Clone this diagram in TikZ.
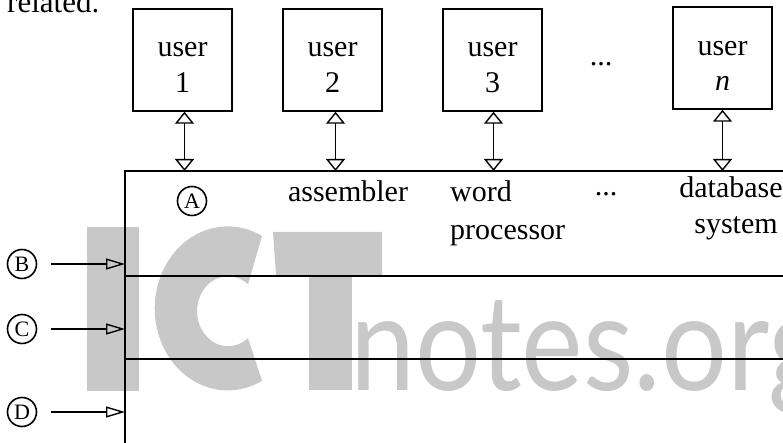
\documentclass[tikz,border=0pt]{standalone}
\usepackage{fontspec}
\usepackage{graphicx}
\setmainfont{Liberation Serif}
\newfontfamily\wmfont{Lato}
\usetikzlibrary{arrows.meta}
\definecolor{wmgray}{RGB}{200,200,200}
\begin{document}
\begin{tikzpicture}[x=1pt,y=-1pt,
  ubox/.style={draw,line width=1.5pt,minimum width=99pt,minimum height=102pt,inner sep=0pt},
  lab/.style={font=\fontsize{30}{36}\selectfont,inner sep=0pt},
  circ/.style={draw,circle,line width=1.6pt,minimum size=29pt,inner sep=0pt,font=\fontsize{22}{22}\selectfont},
  dbl/.style={line width=1.4pt,{Triangle[open,length=12pt,width=19pt]}-{Triangle[open,length=12pt,width=19pt]}},
  inarrow/.style={line width=1.4pt,-{Triangle[open,length=19pt,width=11pt]}},
  frame/.style={line width=1.6pt},
  wm/.style={fill=wmgray,draw=none},
]
\useasboundingbox (0,0) rectangle (783,443);
\clip (0,0) rectangle (783,443);
% watermark
\fill[wm] (87,227) rectangle (139,391);
\fill[wm] (262,236) arc[start angle=-62,end angle=-298,x radius=73,y radius=82]
  -- (248,338) arc[start angle=50,end angle=310,x radius=31,y radius=35] -- cycle;
\fill[wm] (273,232) -- (382,232) -- (382,275) -- (276,275) -- cycle;
\fill[wm] (309,274) rectangle (352,390);
\node[text=wmgray,inner sep=0pt,anchor=base west] (wmtxt) at (350,390)
  {\scalebox{0.87}[1]{\wmfont\fontsize{134}{134}\selectfont notes.org}};
% related
\node[font=\fontsize{31}{31}\selectfont,anchor=base west,inner sep=0pt] (rel) at (7,13) {related.};
% user boxes
\node[ubox] (u1) at (182.5,60) {};
\node[ubox] (u2) at (332.5,60) {};
\node[ubox] (u3) at (492.5,60) {};
\node[ubox] (un) at (722.5,58) {};
\node[lab,anchor=base] (u1a) at (u1.center |- 0,57) {user};
\node[lab,anchor=base] (u1b) at (u1.center |- 0,93) {1};
\node[lab,anchor=base] (u2a) at (u2.center |- 0,57) {user};
\node[lab,anchor=base] (u2b) at (u2.center |- 0,93) {2};
\node[lab,anchor=base] (u3a) at (u3.center |- 0,57) {user};
\node[lab,anchor=base] (u3b) at (u3.center |- 0,93) {3};
\node[lab,anchor=base] (una) at (un.center |- 0,56) {user};
\node[lab,anchor=base] (unb) at (un.center |- 0,91) {\itshape n};
\node[lab,anchor=base] (dots1) at (601,66) {...};
% main frame
\coordinate (tl) at (125,171);
\coordinate (l1) at (125,276);
\coordinate (l2) at (125,359);
\draw[frame] (790,171) -- (tl) -- (125,450);
\draw[frame] (l1) -- (790,276);
\draw[frame] (l2) -- (790,359);
% user arrows
\draw[dbl] ([xshift=2pt]u1.south) -- ([xshift=2pt]u1.south |- tl);
\draw[dbl] ([xshift=3pt]u2.south) -- ([xshift=3pt]u2.south |- tl);
\draw[dbl] ([xshift=1pt]u3.south) -- ([xshift=1pt]u3.south |- tl);
\draw[dbl] (un.south) -- (un.south |- tl);
% inner labels
\node[circ] (A) at (192,201) {A};
\node[lab,anchor=base] (asm) at (348,202) {assembler};
\node[lab,anchor=base west] (wp1) at (450,202) {word};
\node[lab,anchor=base west] (wp2) at (450,240) {processor};
\node[lab,anchor=base] (dots2) at (606,196) {...};
\node[lab,anchor=base] (db1) at (731,198) {database};
\node[lab,anchor=base] (db2) at (736,234) {system};
% side labels
\node[circ] (B) at (22,264) {B};
\node[circ] (C) at (22,329) {C};
\node[circ] (D) at (22,412) {D};
\draw[inarrow] ([xshift=14pt]B.east) -- (B -| tl);
\draw[inarrow] ([xshift=14pt]C.east) -- (C -| tl);
\draw[inarrow] ([xshift=14pt]D.east) -- (D -| tl);
\end{tikzpicture}
\end{document}
